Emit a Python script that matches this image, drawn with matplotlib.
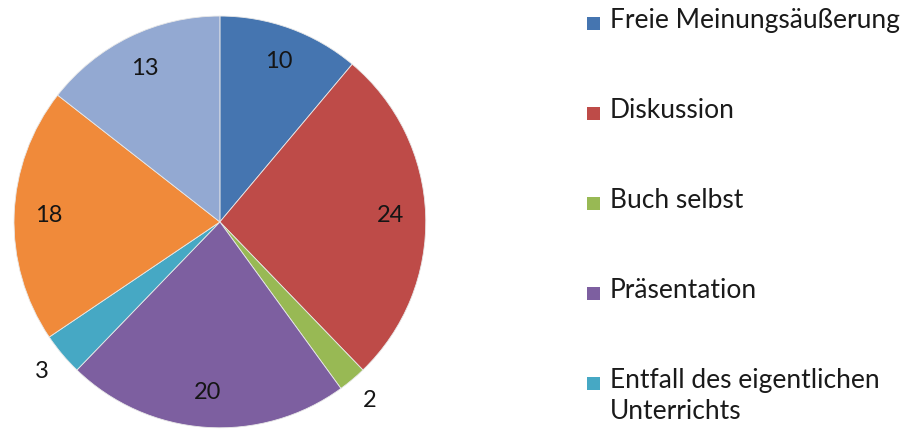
import numpy as np
import matplotlib.pyplot as plt
from matplotlib.patches import Rectangle

plt.rcParams["font.family"] = ["Lato", "DejaVu Sans"]

categories = [
    "Freie Meinungsäußerung",
    "Diskussion",
    "Buch selbst",
    "Präsentation",
    "Entfall des eigentlichen\nUnterrichts",
    "",
    "",
]
values = [10, 24, 2, 20, 3, 18, 13]
colors = ["#4575b0", "#be4b48", "#98b954", "#7d5fa0", "#46a8c4", "#f08a3a", "#93a9d2"]

# only the first five categories appear in the legend
legend_count = 5

W, H = 917, 432
fig = plt.figure(figsize=(W / 100, H / 100), dpi=100)
ax = fig.add_axes([0.0153, 0.0093, 0.449, 0.954])

wedges, _ = ax.pie(
    values,
    colors=colors,
    startangle=90,
    counterclock=False,
    radius=1.0,
    wedgeprops=dict(edgecolor="#e8e8e8", linewidth=0.6),
)
ax.set_xlim(-1, 1)
ax.set_ylim(-1, 1)
ax.set_aspect("equal")
ax.axis("off")

# value labels: inside for large slices, outside for the small ones
for w, v in zip(wedges, values):
    mid = np.deg2rad((w.theta1 + w.theta2) / 2)
    dist = 0.83 if v >= 5 else 1.13
    ax.text(dist * np.cos(mid), dist * np.sin(mid), str(v),
            ha="center", va="center", fontsize=17, color="#151515")

# legend drawn by hand: one row every 90 px, square on the first text line
box = 13
for i in range(legend_count):
    yc = 23 + 90 * i
    fig.patches.append(Rectangle(((593 - box / 2) / W, 1 - (yc + box / 2) / H),
                                 box / W, box / H, facecolor=colors[i],
                                 edgecolor="none", transform=fig.transFigure))
    fig.text(610 / W, 1 - (yc - 15) / H, categories[i], ha="left", va="top",
             fontsize=19, color="#1a1a1a", linespacing=1.3)

fig.savefig("out.png", dpi=100)
